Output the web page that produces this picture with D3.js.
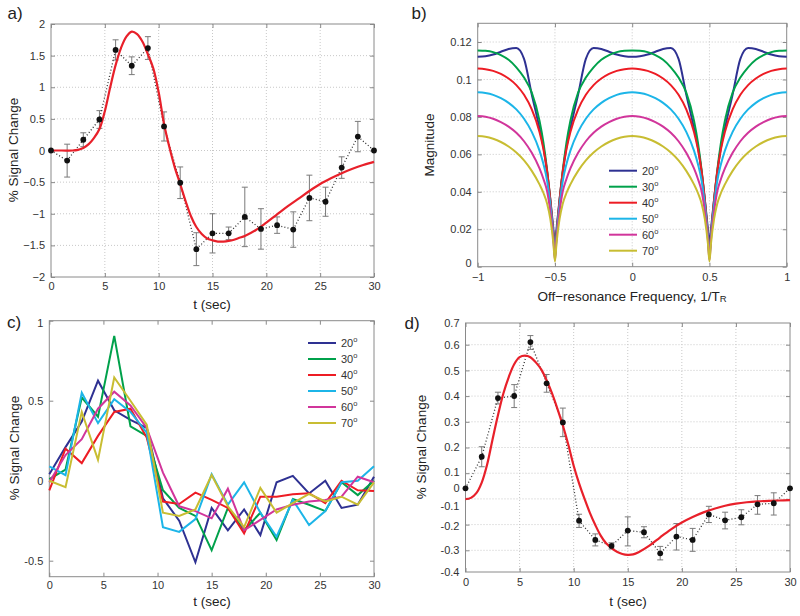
<!DOCTYPE html>
<html><head><meta charset="utf-8">
<script src="https://cdn.jsdelivr.net/npm/d3@7"></script>
<style>
body{margin:0;background:#fff;}
svg{display:block;font-family:Arial,"Liberation Sans",Helvetica,sans-serif;}
</style></head><body>
<svg id="chart" width="800" height="616"></svg>
<script>
// ---------------- DATA ----------------
const tPts = [0,1.5,3,4.5,6,7.5,9,10.5,12,13.5,15,16.5,18,19.5,21,22.5,24,25.5,27,28.5,30];

// panel a
const aMean = [0,-0.16,0.17,0.49,1.59,1.34,1.62,0.38,-0.51,-1.56,-1.31,-1.31,-1.05,-1.24,-1.18,-1.25,-0.75,-0.81,-0.27,0.22,0];
const aErr  = [0,0.26,0.11,0.14,0.16,0.14,0.18,0.23,0.25,0.26,0.31,0.10,0.47,0.32,0.13,0.28,0.36,0.23,0.17,0.24,0];
const aFitT = [0,1,2,2.5,3,3.5,4,4.5,5,5.5,6,6.5,7,7.5,8,8.5,9,9.5,10,10.5,11,11.5,12,12.5,13,13.5,14,14.5,15,15.5,16,16.5,17,17.5,18,19,20,21,22,23,24,25,26,27,28,29,30];
const aFitV = [0,0,0,0.01,0.04,0.1,0.2,0.34,0.62,1.0,1.35,1.62,1.8,1.88,1.84,1.72,1.52,1.3,0.92,0.42,0.05,-0.27,-0.53,-0.8,-1.04,-1.21,-1.32,-1.39,-1.42,-1.44,-1.44,-1.43,-1.41,-1.38,-1.35,-1.26,-1.14,-1.01,-0.88,-0.76,-0.64,-0.53,-0.44,-0.36,-0.29,-0.23,-0.18];
const aXTicks = [0,5,10,15,20,25,30];
const aYTicks = [-2,-1.5,-1,-0.5,0,0.5,1,1.5,2];

// panel b
const angles = ["20","30","40","50","60","70"];
const colors = ["#2e3192","#00a14b","#ed1c24","#1cb5e8","#d1359b","#c8bd32"];
const fGrid = [-1,-0.95,-0.9,-0.85,-0.8,-0.75,-0.7,-0.65,-0.6,-0.575,-0.55,-0.53,-0.51,-0.5,-0.49,-0.47,-0.45,-0.425,-0.4,-0.35,-0.3,-0.25,-0.2,-0.15,-0.1,-0.05,0,0.05,0.1,0.15,0.2,0.25,0.3,0.35,0.4,0.425,0.45,0.47,0.49,0.5,0.51,0.53,0.55,0.575,0.6,0.65,0.7,0.75,0.8,0.85,0.9,0.95,1];
const mag20 = [0.1121,0.1124,0.1133,0.1148,0.1163,0.1168,0.1110,0.0920,0.0740,0.0640,0.0500,0.0360,0.0200,0.0120,
0.0200,0.0360,0.0500,0.0640,0.0740,0.0920,0.1110,0.1168,0.1163,0.1148,0.1133,0.1124,0.1121,
0.1124,0.1133,0.1148,0.1163,0.1168,0.1110,0.0920,0.0740,0.0640,0.0500,0.0360,0.0200,0.0120,
0.0200,0.0360,0.0500,0.0640,0.0740,0.0920,0.1110,0.1168,0.1163,0.1148,0.1133,0.1124,0.1121];
const mag30 = [0.1155,0.1153,0.1146,0.1130,0.1105,0.1065,0.1010,0.0930,0.0780,0.0665,0.0510,0.0350,0.0170,0.0070,
0.0170,0.0350,0.0510,0.0665,0.0780,0.0930,0.1010,0.1065,0.1105,0.1130,0.1146,0.1153,0.1155,
0.1153,0.1146,0.1130,0.1105,0.1065,0.1010,0.0930,0.0780,0.0665,0.0510,0.0350,0.0170,0.0070,
0.0170,0.0350,0.0510,0.0665,0.0780,0.0930,0.1010,0.1065,0.1105,0.1130,0.1146,0.1153,0.1155];
const mag40 = [0.1058,0.1055,0.1046,0.1030,0.1005,0.0970,0.0918,0.0840,0.0720,0.0630,0.0505,0.0360,0.0170,0.0055,
0.0170,0.0360,0.0505,0.0630,0.0720,0.0840,0.0918,0.0970,0.1005,0.1030,0.1046,0.1055,0.1058,
0.1055,0.1046,0.1030,0.1005,0.0970,0.0918,0.0840,0.0720,0.0630,0.0505,0.0360,0.0170,0.0055,
0.0170,0.0360,0.0505,0.0630,0.0720,0.0840,0.0918,0.0970,0.1005,0.1030,0.1046,0.1055,0.1058];
const mag50 = [0.0932,0.0928,0.0918,0.0900,0.0875,0.0840,0.0790,0.0720,0.0620,0.0550,0.0455,0.0330,0.0160,0.0045,
0.0160,0.0330,0.0455,0.0550,0.0620,0.0720,0.0790,0.0840,0.0875,0.0900,0.0918,0.0928,0.0932,
0.0928,0.0918,0.0900,0.0875,0.0840,0.0790,0.0720,0.0620,0.0550,0.0455,0.0330,0.0160,0.0045,
0.0160,0.0330,0.0455,0.0550,0.0620,0.0720,0.0790,0.0840,0.0875,0.0900,0.0918,0.0928,0.0932];
const mag60 = [0.0805,0.0801,0.0790,0.0772,0.0748,0.0715,0.0670,0.0608,0.0525,0.0470,0.0400,0.0295,0.0145,0.0035,
0.0145,0.0295,0.0400,0.0470,0.0525,0.0608,0.0670,0.0715,0.0748,0.0772,0.0790,0.0801,0.0805,
0.0801,0.0790,0.0772,0.0748,0.0715,0.0670,0.0608,0.0525,0.0470,0.0400,0.0295,0.0145,0.0035,
0.0145,0.0295,0.0400,0.0470,0.0525,0.0608,0.0670,0.0715,0.0748,0.0772,0.0790,0.0801,0.0805];
const mag70 = [0.0698,0.0694,0.0683,0.0666,0.0642,0.0610,0.0568,0.0512,0.0440,0.0395,0.0335,0.0255,0.0125,0.0028,
0.0125,0.0255,0.0335,0.0395,0.0440,0.0512,0.0568,0.0610,0.0642,0.0666,0.0683,0.0694,0.0698,
0.0694,0.0683,0.0666,0.0642,0.0610,0.0568,0.0512,0.0440,0.0395,0.0335,0.0255,0.0125,0.0028,
0.0125,0.0255,0.0335,0.0395,0.0440,0.0512,0.0568,0.0610,0.0642,0.0666,0.0683,0.0694,0.0698];
const bXTicks = [-1,-0.5,0,0.5,1];
const bYTicks = [0,0.02,0.04,0.06,0.08,0.1,0.12];

// panel c
const c20 = [0.04,0.21,0.37,0.625,0.44,0.38,0.33,-0.11,-0.25,-0.51,-0.17,-0.31,-0.18,-0.34,-0.01,0.03,-0.08,0.0,-0.17,-0.15,0.025];
const c30 = [0.01,0.07,0.52,0.4,0.905,0.34,0.28,-0.06,-0.17,-0.22,-0.435,-0.17,-0.31,-0.2,-0.37,-0.115,-0.15,-0.19,-0.01,-0.09,0.0];
const c40 = [-0.06,0.2,0.11,0.28,0.43,0.45,0.27,-0.13,-0.146,-0.075,-0.12,-0.17,-0.33,-0.1,-0.1,-0.085,-0.078,-0.14,0.0,-0.06,-0.065];
const c50 = [0.09,0.035,0.55,0.36,0.51,0.43,0.3,-0.29,-0.32,-0.24,0.04,-0.15,-0.01,-0.2,-0.35,-0.12,-0.277,-0.19,-0.01,0.0,0.09];
const c60 = [-0.01,0.16,0.26,0.45,0.556,0.47,0.33,0.05,-0.16,-0.19,-0.235,-0.05,-0.31,-0.245,-0.18,-0.15,-0.13,-0.12,-0.1,0.025,-0.01];
const c70 = [0.0,-0.04,0.43,0.13,0.645,0.5,0.35,-0.2,-0.22,-0.18,0.035,-0.16,-0.29,-0.045,-0.2,-0.14,-0.083,-0.13,-0.1,-0.15,-0.01];
const cYTicks = [-0.5,0,0.5,1];

// panel d
const dMean = [0,0.161,0.392,0.40,0.612,0.45,0.297,-0.174,-0.258,-0.283,-0.219,-0.226,-0.315,-0.244,-0.258,-0.143,-0.172,-0.157,-0.092,-0.086,0];
const dErr  = [0,0.04,0.023,0.045,0.03,0.035,0.056,0.032,0.025,0.013,0.064,0.023,0.03,0.056,0.048,0.04,0.04,0.037,0.05,0.06,0];
const dFitT = [0,0.5,1,1.5,2,2.5,3,3.5,4,4.5,5,5.5,6,6.5,7,7.5,8,8.5,9,9.5,10,10.5,11,11.5,12,12.5,13,13.5,14,14.5,15,15.5,16,17,18,19,20,21,22,23,24,25,26,27,28,29,30];
const dFitV = [-0.062,-0.055,-0.028,0.035,0.13,0.23,0.325,0.41,0.475,0.525,0.552,0.558,0.552,0.532,0.505,0.462,0.41,0.35,0.285,0.21,0.125,0.03,-0.06,-0.135,-0.195,-0.24,-0.272,-0.292,-0.308,-0.318,-0.322,-0.32,-0.31,-0.282,-0.247,-0.214,-0.183,-0.156,-0.133,-0.115,-0.1,-0.088,-0.08,-0.075,-0.072,-0.07,-0.068];
const dYLabels = [0.7,0.6,0.5,0.4,0.3,0.2,0.1,0,-0.1,-0.2,-0.3,-0.4];
const dGridTicks = [-0.2,-0.1,0,0.1,0.2,0.3,0.4,0.5,0.6];

// ---------------- DRAW ----------------
const svg = d3.select("#chart");
svg.append("rect").attr("width",800).attr("height",616).attr("fill","#fff");
const AX = "#8a8a8a", TXT = "#333", GRID = "#c8c8c8";
const fmtM = d => (d < 0 ? "\u2212" : "") + Math.abs(d);
const fmtH = d => (d < 0 ? "-" : "") + Math.abs(d);

function frame(x, y, opt) {
  const g = svg.append("g");
  const [x0, x1] = x.range(), [yb, yt] = [d3.max(y.range()), d3.min(y.range())];
  const gy = opt.gridY || y;
  if (opt.grid) {
    g.selectAll(".gv").data(opt.xTicks.filter(d => x(d) > x0 + 1 && x(d) < x1 - 1)).join("line")
      .attr("x1", d => x(d)).attr("x2", d => x(d)).attr("y1", yt).attr("y2", yb)
      .attr("stroke", GRID).attr("stroke-dasharray", "1,2");
    g.selectAll(".gh").data(opt.gridTicks || opt.yTicks).join("line")
      .filter(d => gy(d) > yt + 1 && gy(d) < yb - 1)
      .attr("x1", x0).attr("x2", x1).attr("y1", d => gy(d)).attr("y2", d => gy(d))
      .attr("stroke", GRID).attr("stroke-dasharray", "1,2");
  }
  g.append("rect").attr("x", x0).attr("y", yt).attr("width", x1 - x0).attr("height", yb - yt)
    .attr("fill", "none").attr("stroke", AX);
  const bx = g.append("g").attr("transform", `translate(0,${yb})`)
    .call(d3.axisBottom(x).tickValues(opt.xTicks).tickSize(-4).tickPadding(opt.xPad || 5).tickFormat(opt.xFmt || fmtM));
  g.append("g").attr("transform", `translate(0,${yt})`)
    .call(d3.axisTop(x).tickValues(opt.xTicks).tickSize(-4).tickFormat(""));
  const tickY = opt.gridY ? gy : y;
  const tickVals = opt.gridY ? opt.gridTicks : opt.yTicks;
  g.append("g").attr("transform", `translate(${x0},0)`)
    .call(d3.axisLeft(tickY).tickValues(tickVals).tickSize(-4).tickFormat(""));
  g.append("g").attr("transform", `translate(${x1},0)`)
    .call(d3.axisRight(tickY).tickValues(tickVals).tickSize(-4).tickFormat(""));
  const ly = g.append("g").attr("transform", `translate(${x0},0)`)
    .call(d3.axisLeft(y).tickValues(opt.yTicks).tickSize(0).tickPadding(6).tickFormat(opt.yFmt || fmtM));
  g.selectAll(".domain").remove();
  g.selectAll(".tick line").attr("stroke", AX);
  g.selectAll(".tick text").attr("fill", TXT).attr("font-size", 11).attr("font-family", "Arial, 'Liberation Sans', sans-serif");
  return {g, bx, ly};
}

function text(x, y, s, size, rot) {
  const t = svg.append("text").attr("x", x).attr("y", y).attr("text-anchor", "middle")
    .attr("dominant-baseline", "middle").attr("font-size", size).attr("fill", "#222").text(s);
  if (rot) t.attr("transform", `rotate(-90,${x},${y})`);
  return t;
}

// ===== Panel a =====
const xa = d3.scaleLinear().domain([0,30]).range([51,374]);
const ya = d3.scaleLinear().domain([-2,2]).range([277,24]);
frame(xa, ya, {xTicks: aXTicks, yTicks: aYTicks, grid: true, xPad: 5});

function errPlot(x, y, T, M, E, FT, FV) {
  const g = svg.append("g");
  const idx = d3.range(T.length).filter(i => E[i] > 0);
  g.selectAll(".eb").data(idx).join("line")
    .attr("x1", i => x(T[i])).attr("x2", i => x(T[i]))
    .attr("y1", i => y(M[i] - E[i])).attr("y2", i => y(M[i] + E[i]))
    .attr("stroke", "#7a7a7a").attr("stroke-width", 1);
  ["top","bot"].forEach(k => {
    g.selectAll(".cap" + k).data(idx).join("line")
      .attr("x1", i => x(T[i]) - 3).attr("x2", i => x(T[i]) + 3)
      .attr("y1", i => y(k === "top" ? M[i] + E[i] : M[i] - E[i]))
      .attr("y2", i => y(k === "top" ? M[i] + E[i] : M[i] - E[i]))
      .attr("stroke", "#7a7a7a").attr("stroke-width", 1);
  });
  g.append("path").datum(d3.range(T.length))
    .attr("d", d3.line().x(i => x(T[i])).y(i => y(M[i])))
    .attr("fill", "none").attr("stroke", "#333").attr("stroke-width", 1.3).attr("stroke-dasharray", "1,2.2");
  g.append("path").datum(d3.range(FT.length))
    .attr("d", d3.line().x(i => x(FT[i])).y(i => y(FV[i])).curve(d3.curveCatmullRom))
    .attr("fill", "none").attr("stroke", "#e8202a").attr("stroke-width", 2.2);
  g.selectAll(".pt").data(d3.range(T.length)).join("circle")
    .attr("cx", i => x(T[i])).attr("cy", i => y(M[i])).attr("r", 2.9).attr("fill", "#111");
}
errPlot(xa, ya, tPts, aMean, aErr, aFitT, aFitV);
text(15, 15, "a)", 17);
text(14, 150, "% Signal Change", 13.5, true);
text(212, 305, "t (sec)", 13.5);

// ===== Panel b =====
const xb = d3.scaleLinear().domain([-1,1]).range([477.7,786.7]);
const yb = d3.scaleLinear().domain([0,0.13]).range([266.7,23.3]);
const fb = frame(xb, yb, {xTicks: bXTicks, yTicks: bYTicks, grid: true, xPad: 7});
fb.ly.selectAll(".tick").filter(d => d === 0).select("text").attr("dy", "-0.05em");
const magSeries = [mag20, mag30, mag40, mag50, mag60, mag70];
magSeries.forEach((s, k) => {
  svg.append("path").datum(d3.range(fGrid.length))
    .attr("d", d3.line().x(i => xb(fGrid[i])).y(i => yb(s[i])).curve(d3.curveMonotoneX))
    .attr("fill", "none").attr("stroke", colors[k]).attr("stroke-width", 2);
});
function legend(xl, yl) {
  angles.forEach((a, k) => {
    const yy = yl + k * 16;
    svg.append("line").attr("x1", xl).attr("x2", xl + 28).attr("y1", yy).attr("y2", yy)
      .attr("stroke", colors[k]).attr("stroke-width", 2);
    const t = svg.append("text").attr("x", xl + 33).attr("y", yy + 4).attr("font-size", 11).attr("fill", TXT).text(a);
    t.append("tspan").attr("font-size", 7.5).attr("dy", -5).text("o");
  });
}
legend(609, 170.7);
text(419, 15, "b)", 17);
text(430, 145, "Magnitude", 13.5, true);
const bt = svg.append("text").attr("x", 632).attr("y", 301).attr("text-anchor", "middle")
  .attr("font-size", 13.5).attr("fill", "#222").text("Off\u2212resonance Frequency, 1/T");
bt.append("tspan").attr("font-size", 9.5).attr("dy", 1).text("R");

// ===== Panel c =====
const xc = d3.scaleLinear().domain([0,30]).range([49.3,374]);
const yc = d3.scaleLinear().domain([-0.6,1]).range([576.7,320.7]);
const fc = frame(xc, yc, {xTicks: aXTicks, yTicks: cYTicks, grid: false, xPad: 5, yFmt: fmtH});
fc.ly.selectAll(".tick").filter(d => d === 1).select("text").attr("dy", "0.55em");
const cSeries = [c20, c30, c40, c50, c60, c70];
cSeries.forEach((s, k) => {
  svg.append("path").datum(d3.range(tPts.length))
    .attr("d", d3.line().x(i => xc(tPts[i])).y(i => yc(s[i])))
    .attr("fill", "none").attr("stroke", colors[k]).attr("stroke-width", 2).attr("stroke-linejoin", "miter");
});
legend(308, 343);
text(14, 324, "c)", 17);
text(15, 448, "% Signal Change", 13.5, true);
text(212, 602, "t (sec)", 13.5);

// ===== Panel d =====
const xd = d3.scaleLinear().domain([0,30]).range([465.5,790]);
// label-aligned value scale (tick labels in the figure are unevenly spaced)
const yd = d3.scaleLinear()
  .domain([-0.4,-0.3,-0.2,-0.1,0,0.1,0.2,0.3,0.4,0.5,0.6,0.7])
  .range([572,550,526,505.7,488.3,472,447,421.7,396,370.7,344.7,323]);
const ydGrid = d3.scaleLinear().domain([-0.3,0.7]).range([576,319]);
frame(xd, yd, {xTicks: aXTicks, yTicks: dYLabels, grid: true, gridY: ydGrid, gridTicks: dGridTicks, xPad: 6, yFmt: fmtH});
errPlot(xd, yd, tPts, dMean, dErr, dFitT, dFitV);
text(412, 325, "d)", 17);
text(422, 447, "% Signal Change", 13.5, true);
text(628, 602, "t (sec)", 13.5);
</script>
</body></html>
